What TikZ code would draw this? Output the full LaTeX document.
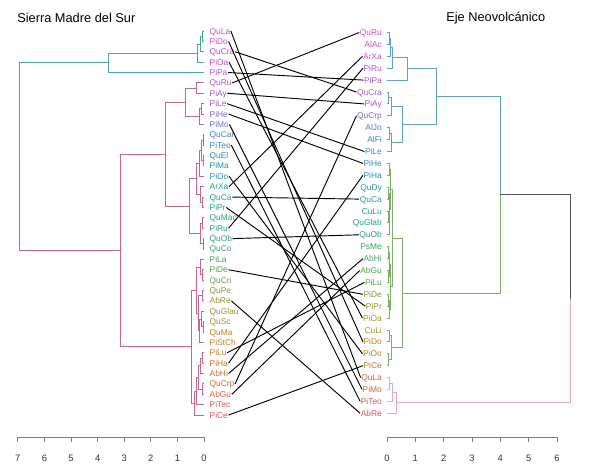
\documentclass[tikz,border=0pt]{standalone}
\usepackage{fontspec}
\setmainfont{Liberation Sans}
\usepackage{tikz}
\usepackage{color}

\definecolor{sierrateal}{HTML}{45A89C}
\definecolor{sierrapink}{HTML}{C8628E}
\definecolor{ejeblue}{HTML}{5AA2CC}
\definecolor{ejegreen}{HTML}{7BB068}
\definecolor{ejepink}{HTML}{E2A8BE}
\definecolor{ejedark}{HTML}{555555}
\definecolor{axisgray}{HTML}{7F7F7F}

\tikzset{
	leaf/.style={inner sep=0.5pt, outer sep=0pt, font=\fontsize{6.3}{7}\selectfont, text height=4.5pt, text depth=0pt},
	sleaf/.style={leaf, anchor=west},
	eleaf/.style={leaf, anchor=east},
	branch/.style={line width=0.7pt},
	link/.style={line width=0.7pt, black},
	title/.style={anchor=west, inner sep=0pt, font=\fontsize{9.6}{11}\selectfont},
	ticklab/.style={inner sep=0pt, font=\fontsize{7}{8}\selectfont, text=black!80},
	axisline/.style={axisgray, line width=0.7pt},
}

\begin{document}
\begin{tikzpicture}[x=0.75pt, y=-0.75pt]
		\useasboundingbox (0,0) rectangle (589,471);

		\node[title] (tsierra) at (17,18) {Sierra Madre del Sur};
		\node[title] (teje) at (446,18) {Eje Neovolcánico};

		\foreach \lab/\col [count=\i from 0] in {QuLa/C84FC8,PiDo/C84FC8,QuCra/C650C8,PiOa/C050C8,PiPa/BC52C8,QuRu/B055CB,PiAy/9A5ACD,PiLe/8A62D0,PiHe/7A68D0,PiMo/6C70D0,QuCar/4A80CC,PiTeo/3A86C8,QuEl/2E8CC0,PiMa/2592B5,PiOo/2096AE,ArXa/1E9AA5,QuCa/1E9E98,PiPr/20A08E,QuMac/22A284,PiRu/26A278,QuOb/2EA26C,QuCo/38A260,PiLa/46A254,PiDe/56A048,QuCri/689E3A,QuPe/7A9C2E,AbRe/8A9826,QuGlau/9A9420,QuSc/A6901E,QuMa/B08A1E,PiStCh/BA8422,PiLu/C27C28,PiHa/C8762E,AbHi/CC7034,QuCrp/D0683C,AbGu/D26246,PiTec/D45A52,PiCe/D4525E}
		{
			\edef\setlc{\noexpand\definecolor{lc}{HTML}{\col}}\setlc
			\node[sleaf, text=lc] (s\lab) at (209,{31+10.38*\i}) {\lab};
		}

		\foreach \lab/\col [count=\i from 0] in {QuRu/C84FC8,AlAc/C450C8,ArXa/BE52C8,PiRu/B655CA,PiPa/AC58CC,QuCra/A05CCE,PiAy/9060D0,QuCrp/7C66D0,AlJo/6470D0,AlFi/4A7ECC,PiLe/3A86C6,PiHe/2C8EBE,PiHa/2494B2,QuDy/209AA6,QuCa/1E9E9A,CuLu/20A08E,QuGlab/22A282,QuOb/28A276,PsMe/32A268,AbHi/40A25A,AbGu/52A04C,PiLu/66A03C,PiDe/7A9C2E,PiPr/8C9826,PiOa/9E9420,CuLi/AC8E1E,PiDo/B88620,PiOo/C27E26,PiCe/C8762E,QuLa/CE6C38,PiMo/D26244,PiTeo/D45A52,AbRe/D45060}
		{
			\edef\setlc{\noexpand\definecolor{lc}{HTML}{\col}}\setlc
			\node[eleaf, text=lc] (e\lab) at (382.5,{32.5+11.9*\i}) {\lab};
		}

		\foreach \xa/\ya/\xp/\xb/\yb in {204/31/202/204/41.4,202/36.2/200/204/51.8,200/44/197/204/62.1,197/53.05/108/204/72.5}
			\draw[branch, sierrateal] (\xa,\ya) -- (\xp,\ya) -- (\xp,\yb) -- (\xb,\yb);
		\foreach \xa/\ya/\xp/\xb/\yb in {204/82.9/196/204/93.3,204/103.7/201/204/114.0,201/108.85/199/204/124.4,196/88.1/185/199/116.6,204/134.8/203/204/145.2,204/155.6/203/204/165.9,203/140/201/203/160.75,201/150.4/199/204/176.3,204/197.1/202/204/207.5,204/186.7/200/202/202.3,199/163.35/196/200/194.5,204/217.8/202/204/228.2,204/238.6/203/204/249.0,202/223/200/203/243.8,196/178.9/189/200/233.4,185/102.35/165/189/206.15,204/269.7/202/204/280.1,204/259.4/200/202/274.9,204/290.5/202/204/300.9,204/321.6/203/204/332.0,204/311.3/201/203/326.8,201/319.05/199.5/204/342.4,202/295.7/198/199.5/330.7,200/267.15/196/198/313.2,204/352.8/202/204/363.2,202/358/200/204/373.5,204/383.9/202/204/394.3,200/365.75/198/202/389.1,198/377.4/196/204/404.7,196/391.05/194/204/415.1,196/290.2/191/194/403.1,165/154.25/120/191/346.65}
			\draw[branch, sierrapink] (\xa,\ya) -- (\xp,\ya) -- (\xp,\yb) -- (\xb,\yb);
		\draw[branch, sierrateal] (108,62.8) -- (19,62.8) -- (19,156.6);
		\draw[branch, sierrapink] (19,156.6) -- (19,250.45) -- (120,250.45);

		\foreach \xa/\ya/\xp/\xb/\yb in {387/32.5/389/387/44.4,389/38.45/390.5/387/56.3,390.5/47.4/392.5/387/68.2,392.5/57.8/407/387/80.1,387/92.0/388.5/387/103.9,388.5/97.95/391/387/115.8,387/127.7/389.5/387/139.6,389.5/133.65/391.5/387/151.5,391/106.9/402/391.5/142.6,407/68.95/436/402/124.75}
			\draw[branch, ejeblue] (\xa,\ya) -- (\xp,\ya) -- (\xp,\yb) -- (\xb,\yb);
		\foreach \xa/\ya/\xp/\xb/\yb in {387/163.4/389/387/175.3,387/187.2/388.5/387/199.1,387/211.0/388/387/222.9,388/216.95/389/387/234.8,388.5/193.15/389.8/389/225.9,389/169.35/390.5/389.8/209.5,387/246.7/388/387/258.6,387/270.5/388/387/282.4,388/252.65/389/388/276.45,387/294.3/388.5/387/306.2,388.5/300.25/389.5/387/318.1,389/264.55/390.2/389.5/309.2,390.5/189.4/392/390.2/286.9,387/330.0/389/387/341.9,387/353.8/388.5/387/365.7,389/335.95/391/388.5/359.75,392/238.15/402/391/347.85}
			\draw[branch, ejegreen] (\xa,\ya) -- (\xp,\ya) -- (\xp,\yb) -- (\xb,\yb);
		\foreach \xa/\ya/\xp/\xb/\yb in {387/377.6/389.3/387/389.5,389.3/383.55/392.7/387/401.4,392.7/392.5/396.7/387/413.3}
			\draw[branch, ejepink] (\xa,\ya) -- (\xp,\ya) -- (\xp,\yb) -- (\xb,\yb);
		\draw[branch, ejeblue] (436,96.85) -- (500,96.85) -- (500,194.9);
		\draw[branch, ejegreen] (500,194.9) -- (500,293) -- (402,293);
		\draw[branch, ejedark] (500,194.9) -- (570,194.9) -- (570,298.9);
		\draw[branch, ejepink] (570,298.9) -- (570,402.9) -- (396.7,402.9);

		\foreach \lab in {QuLa,PiDo,QuCra,PiOa,PiPa,QuRu,PiAy,PiLe,PiHe,PiMo,PiTeo,PiOo,ArXa,QuCa,PiPr,PiRu,QuOb,PiDe,AbRe,PiLu,PiHa,AbHi,QuCrp,AbGu,PiCe}
			\draw[link] (s\lab.east) -- (e\lab.west);

		\draw[axisline] (17.8,437) -- (204,437);
		\foreach \t in {0,...,7} {
			\draw[axisline] ({204-26.6*\t},437) -- ({204-26.6*\t},442);
			\node[ticklab] (sx\t) at ({204-26.6*\t},458) {\t};
		}
		\draw[axisline] (387,437) -- (557,437);
		\foreach \t in {0,...,6} {
			\draw[axisline] ({387+28.33*\t},437) -- ({387+28.33*\t},442);
			\node[ticklab] (ex\t) at ({387+28.33*\t},458) {\t};
		}
	\end{tikzpicture}
\end{document}
